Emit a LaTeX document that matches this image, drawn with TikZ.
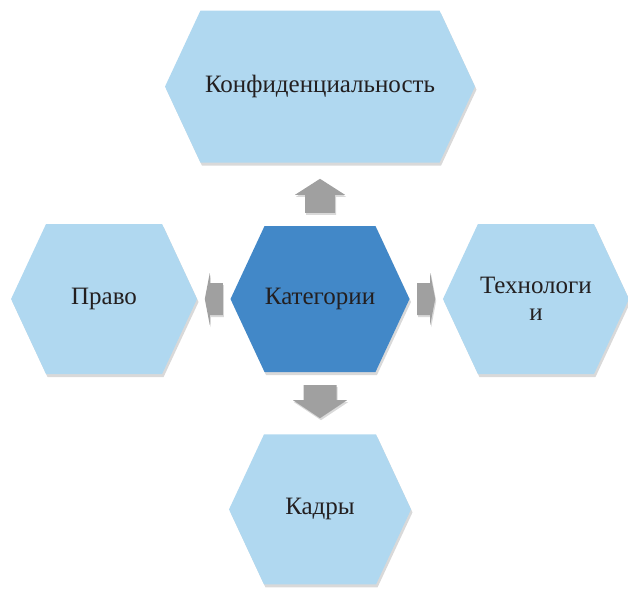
\documentclass[tikz,border=0pt]{standalone}
\usepackage{fontspec}
\setmainfont{Liberation Serif}
\usetikzlibrary{positioning,calc,shapes.symbols,shadows}
\definecolor{hexlight}{RGB}{176,216,240}
\definecolor{hexdark}{RGB}{66,136,200}
\definecolor{arrowgray}{RGB}{160,160,160}
\definecolor{textdark}{RGB}{35,31,32}
\tikzset{
  hex node/.style={signal, signal to=west and east, signal pointer angle=130,
    minimum width=186pt, minimum height=150pt,
    inner sep=0pt, fill=hexlight, text=textdark, align=center,
    font=\fontsize{25}{27}\selectfont,
    drop shadow={shadow xshift=1.5pt, shadow yshift=-3pt, opacity=0.3}},
  % length, head length, shaft half width, head half width
  pics/block arrow/.style n args={4}{code={
    \fill[arrowgray, drop shadow={shadow xshift=1pt, shadow yshift=-2pt, opacity=0.3}]
      ({-#1/2},{-#3}) -- ({#1/2-#2},{-#3}) -- ({#1/2-#2},{-#4}) -- ({#1/2},0)
      -- ({#1/2-#2},{#4}) -- ({#1/2-#2},{#3}) -- ({-#1/2},{#3}) -- cycle;
  }}
}

\begin{document}
\begin{tikzpicture}[x=1pt,y=-1pt]
  \useasboundingbox (0,0) rectangle (628,589);

  \node[hex node, fill=hexdark, minimum width=179pt, minimum height=146pt]
        (cat) at (320,299) {Категории};
  \node[hex node, minimum width=310pt, minimum height=152pt]
        (conf) [above = 63pt of cat] {Конфиденциальность};
  \node[hex node] (law) [left = 33pt of cat] {Право};
  \node[hex node] (tech) [right = 33pt of cat] {Технологи\\и};
  \node[hex node, minimum width=182pt] (staff) [below = 62pt of cat] {Кадры};

  % arrows between the centre and the outer cells
  \coordinate (upmid) at ($(cat.north)!0.5!(conf.south)+(0,1.5)$);
  \coordinate (downmid) at ($(cat.south)!0.5!(staff.north)+(0,-1.5)$);
  \coordinate (leftmid) at ($(cat.west)!0.5!(law.east)$);
  \coordinate (rightmid) at ($(cat.east)!0.5!(tech.west)$);

  \pic[rotate=90] at (upmid) {block arrow={34}{16}{15}{25}};
  \pic[rotate=-90] at (downmid) {block arrow={33}{18}{16.5}{27}};
  \pic[rotate=180] at (leftmid) {block arrow={18}{5}{16}{26}};
  \pic at (rightmid) {block arrow={18}{5}{16}{26}};
\end{tikzpicture}
\end{document}
